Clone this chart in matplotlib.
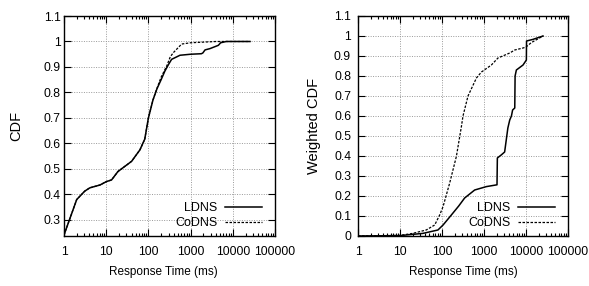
import matplotlib
matplotlib.use("Agg")
import matplotlib.pyplot as plt
from matplotlib.ticker import FixedLocator, NullFormatter, LogLocator

plt.rcParams['font.family'] = ['Liberation Sans', 'DejaVu Sans']
plt.rcParams['font.size'] = 8.7

# left panel: CDF of response time
ldns_x = [1, 2, 3.1, 4.1, 7.1, 10, 13.4, 19, 40, 63, 82, 100, 128, 160, 200, 246,
          300, 355, 560, 1000, 1800, 1950, 2200, 2870, 4550, 5150, 7000, 25600]
ldns_y = [0.241, 0.38, 0.413, 0.426, 0.437, 0.45, 0.457, 0.49, 0.53, 0.575, 0.617, 0.7,
          0.77, 0.815, 0.85, 0.884, 0.91, 0.93, 0.946, 0.95, 0.952, 0.955, 0.967, 0.972,
          0.985, 0.995, 1.0, 1.0]
codns_x = [1, 2, 3.1, 4.1, 7.1, 10, 13.4, 19, 40, 63, 82, 100, 128, 157, 200, 272,
           330, 389, 614, 1000, 4000, 25600]
codns_y = [0.241, 0.38, 0.413, 0.426, 0.437, 0.45, 0.457, 0.49, 0.53, 0.575, 0.617, 0.7,
           0.77, 0.813, 0.86, 0.904, 0.94, 0.956, 0.99, 0.995, 1.0, 1.0]

# right panel: weighted CDF
wl_x = [1, 10, 35, 80, 106, 167, 250, 346, 600, 1140, 2040, 2080, 2600, 3100, 3700,
        4100, 4500, 4800, 5400, 5500, 5900, 8500, 10200, 10300, 14600, 25400]
wl_y = [0.0, 0.002, 0.013, 0.03, 0.055, 0.105, 0.15, 0.19, 0.23, 0.247, 0.256, 0.39,
        0.406, 0.42, 0.54, 0.58, 0.6, 0.63, 0.64, 0.8, 0.83, 0.855, 0.88, 0.975, 0.983, 1.0]
wc_x = [1, 10, 20, 42, 67, 88, 106, 152, 220, 290, 316, 416, 660, 870, 1500, 2150,
        4100, 5400, 8500, 10000, 13400, 25400]
wc_y = [0.0, 0.003, 0.013, 0.03, 0.055, 0.105, 0.147, 0.264, 0.398, 0.548, 0.6, 0.7,
        0.79, 0.82, 0.855, 0.89, 0.915, 0.93, 0.94, 0.945, 0.967, 1.0]

xticks = [1, 10, 100, 1000, 10000, 100000]
xlabels = ['1', '10', '100', '1000', '10000', '100000']

fig = plt.figure(figsize=(5.89, 2.86), dpi=100)
ax1 = fig.add_axes([64 / 589, 1 - 236 / 286, 211 / 589, 220 / 286])
ax2 = fig.add_axes([358 / 589, 1 - 236 / 286, 210 / 589, 220 / 286])


def style(ax, yticks, ylabels, ylim, ylabel, ylab_x, xlab_x, ypad):
    ax.set_xscale('log')
    ax.set_xlim(1, 100000)
    ax.set_ylim(*ylim)
    ax.xaxis.set_major_locator(FixedLocator(xticks))
    ax.set_xticklabels(xlabels)
    ax.xaxis.set_minor_locator(LogLocator(base=10, subs=range(2, 10), numticks=20))
    ax.xaxis.set_minor_formatter(NullFormatter())
    ax.set_yticks(yticks)
    ax.set_yticklabels(ylabels)
    ax.grid(True, which='major', color='#999999', linestyle=(0, (1, 1.5)), linewidth=0.7)
    ax.tick_params(which='both', direction='in', top=True, right=True, width=0.8)
    ax.tick_params(which='major', length=5)
    ax.tick_params(which='minor', length=2.5)
    ax.tick_params(axis='x', pad=7)
    ax.tick_params(axis='y', pad=ypad)
    for s in ax.spines.values():
        s.set_linewidth(1.0)
    ax.set_xlabel('Response Time (ms)', fontsize=8.5)
    ax.xaxis.set_label_coords(xlab_x, -0.135)
    ax.set_ylabel(ylabel, fontsize=10.5)
    ax.yaxis.set_label_coords(ylab_x, 0.5)
    ax.legend(loc='lower right', bbox_to_anchor=(0.94, 0.03), frameon=False,
              markerfirst=False, handlelength=3.0, handletextpad=0.6,
              labelspacing=0.25, borderaxespad=0, borderpad=0, fontsize=9)


ax1.plot(ldns_x, ldns_y, color='black', linewidth=1.1, label='LDNS')
ax1.plot(codns_x, codns_y, color='black', linewidth=0.9, linestyle=(0, (2, 1.2)), label='CoDNS')
style(ax1, [0.3, 0.4, 0.5, 0.6, 0.7, 0.8, 0.9, 1.0, 1.1],
      ['0.3', '0.4', '0.5', '0.6', '0.7', '0.8', '0.9', '1', '1.1'],
      (0.237, 1.1), 'CDF', -0.194, 0.47, 2.5)

ax2.plot(wl_x, wl_y, color='black', linewidth=1.1, label='LDNS')
ax2.plot(wc_x, wc_y, color='black', linewidth=0.9, linestyle=(0, (2, 1.2)), label='CoDNS')
style(ax2, [0, 0.1, 0.2, 0.3, 0.4, 0.5, 0.6, 0.7, 0.8, 0.9, 1.0, 1.1],
      ['0', '0.1', '0.2', '0.3', '0.4', '0.5', '0.6', '0.7', '0.8', '0.9', '1', '1.1'],
      (0, 1.1), 'Weighted CDF', -0.176, 0.5, 5)

fig.savefig('out.png', dpi=100)
